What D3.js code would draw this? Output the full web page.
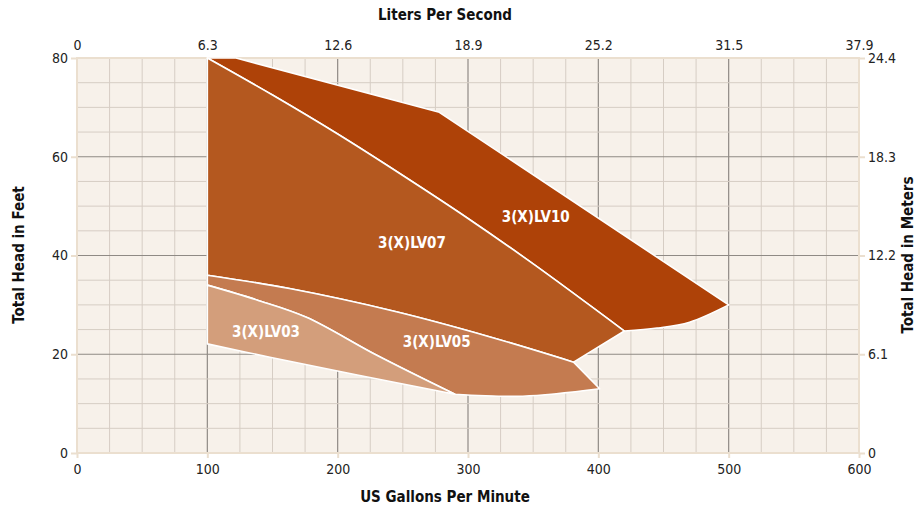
<!DOCTYPE html>
<html>
<head>
<meta charset="utf-8">
<script src="https://cdn.jsdelivr.net/npm/d3@7"></script>
<style>
  body { margin: 0; background: #fff; }
  text { font-family: "DejaVu Sans Condensed", "DejaVu Sans", sans-serif; }
</style>
</head>
<body>
<svg id="chart" width="918" height="510"></svg>
<script>
// axis ticks
const gpmTicks = [0, 100, 200, 300, 400, 500, 600];
const lpsLabels = ["0", "6.3", "12.6", "18.9", "25.2", "31.5", "37.9"];
const feetTicks = [0, 20, 40, 60, 80];
const meterLabels = ["0", "6.1", "12.2", "18.3", "24.4"];

// curve edges [gpm, feet]
const lv10Top = [[100, 80], [122, 80], [278, 69], [500, 30]];
const lv10Bottom = [[500, 30], [470, 26.5], [445, 25.3], [420, 24.7]];
const lv07Top = [[100, 80], [150, 72.5], [200, 64.6], [250, 56.2], [300, 47.5], [350, 38.3], [420, 24.7]];
const lv07Right = [[420, 24.7], [381, 18.4]];
const lv05Top = [[100, 36], [163, 33.3], [245, 28.6], [317, 23.5], [381, 18.4]];
const lv05Right = [[381, 18.4], [401, 13]];
const lv05Bottom = [[401, 13], [342, 11.5], [290, 11.9]];
const lv03Top = [[100, 34], [138, 31], [176, 27.5], [230, 19.8], [290, 11.9]];
const lv03Bottom = [[100, 22.1], [148, 19.4], [215, 15.8], [290, 11.9]];

const rev = a => a.slice().reverse();
// straight edges are drawn linear, the rest as smooth curves
const S = pts => ({ pts, smooth: true });
const L = pts => ({ pts, smooth: false });
const series = [
  { name: "3(X)LV10", edges: [L(lv10Top), S(lv10Bottom), S(rev(lv07Top))], color: "#ae4208", at: [352, 47.8] },
  { name: "3(X)LV07", edges: [S(lv07Top), L(lv07Right), S(rev(lv05Top))], color: "#b4581f", at: [257, 42.5] },
  { name: "3(X)LV05", edges: [S(lv05Top), L(lv05Right), S(lv05Bottom), S(rev(lv03Top))], color: "#c47b50", at: [276, 22.5] },
  { name: "3(X)LV03", edges: [S(lv03Top), S(rev(lv03Bottom))], color: "#d39e7b", at: [145, 24.5] }
];

const svg = d3.select("#chart");
const x = d3.scaleLinear().domain([0, 600]).range([77, 859]);
const y = d3.scaleLinear().domain([0, 80]).range([453, 58]);

// plot background
svg.append("rect")
  .attr("x", x(0)).attr("y", y(80))
  .attr("width", x(600) - x(0)).attr("height", y(0) - y(80))
  .attr("fill", "#f7f1ea");

// grid
const grid = svg.append("g");
d3.range(0, 601, 25).forEach(v => {
  grid.append("line")
    .attr("x1", x(v)).attr("x2", x(v)).attr("y1", y(0)).attr("y2", y(80))
    .attr("stroke", v % 100 === 0 ? "#8f8a85" : "#d6cdc4")
    .attr("stroke-width", v % 100 === 0 ? 1.2 : 1);
});
d3.range(0, 81, 5).forEach(v => {
  grid.append("line")
    .attr("x1", x(0)).attr("x2", x(600)).attr("y1", y(v)).attr("y2", y(v))
    .attr("stroke", v % 20 === 0 ? "#8f8a85" : "#d6cdc4")
    .attr("stroke-width", v % 20 === 0 ? 1.2 : 1);
});
// frame
svg.append("rect")
  .attr("x", x(0)).attr("y", y(80))
  .attr("width", x(600) - x(0)).attr("height", y(0) - y(80))
  .attr("fill", "none").attr("stroke", "#ebdfcf").attr("stroke-width", 2);

// areas: edges joined into one closed path
const smoothLine = d3.line().x(d => x(d[0])).y(d => y(d[1])).curve(d3.curveCatmullRom);
const straightLine = d3.line().x(d => x(d[0])).y(d => y(d[1]));
const areaPath = edges => edges.map((e, i) => {
  const p = (e.smooth ? smoothLine : straightLine)(e.pts);
  return i === 0 ? p : "L" + p.slice(1);
}).join("") + "Z";

svg.append("g").selectAll("path")
  .data(series)
  .enter().append("path")
  .attr("d", d => areaPath(d.edges))
  .attr("fill", d => d.color)
  .attr("stroke", "#fff")
  .attr("stroke-width", 1.6)
  .attr("stroke-linejoin", "round");

svg.append("g").selectAll("text")
  .data(series)
  .enter().append("text")
  .attr("x", d => x(d.at[0])).attr("y", d => y(d.at[1]))
  .attr("text-anchor", "middle").attr("dy", "0.35em")
  .attr("fill", "#fff").attr("font-size", 15).attr("font-weight", "bold")
  .text(d => d.name);

// axes
function styleAxis(g) {
  g.select(".domain").remove();
  g.selectAll(".tick line").attr("stroke", "#ebdfcf").attr("stroke-width", 2);
  g.selectAll(".tick text").attr("fill", "#222").attr("font-size", 14)
    .style("font-family", "DejaVu Sans Condensed, DejaVu Sans, sans-serif");
}
svg.append("g").attr("transform", `translate(0,${y(0)})`)
  .call(d3.axisBottom(x).tickValues(gpmTicks).tickSize(5).tickPadding(6))
  .call(styleAxis);
svg.append("g").attr("transform", `translate(0,${y(80)})`)
  .call(d3.axisTop(x).tickValues(gpmTicks).tickSize(0).tickPadding(8)
    .tickFormat((d, i) => lpsLabels[i]))
  .call(styleAxis);
svg.append("g").attr("transform", `translate(${x(0)},0)`)
  .call(d3.axisLeft(y).tickValues(feetTicks).tickSize(6).tickPadding(3))
  .call(styleAxis);
svg.append("g").attr("transform", `translate(${x(600)},0)`)
  .call(d3.axisRight(y).tickValues(feetTicks).tickSize(6).tickPadding(3)
    .tickFormat((d, i) => meterLabels[i]))
  .call(styleAxis);

// axis titles
const title = (tx, ty, rot, txt) => svg.append("text")
  .attr("transform", `translate(${tx},${ty}) rotate(${rot})`)
  .attr("text-anchor", "middle")
  .attr("font-size", 15).attr("font-weight", "bold").attr("fill", "#111")
  .text(txt);
title(445, 20, 0, "Liters Per Second");
title(445, 502, 0, "US Gallons Per Minute");
title(24, 255, -90, "Total Head in Feet");
title(913, 255, -90, "Total Head in Meters");
</script>
</body>
</html>
